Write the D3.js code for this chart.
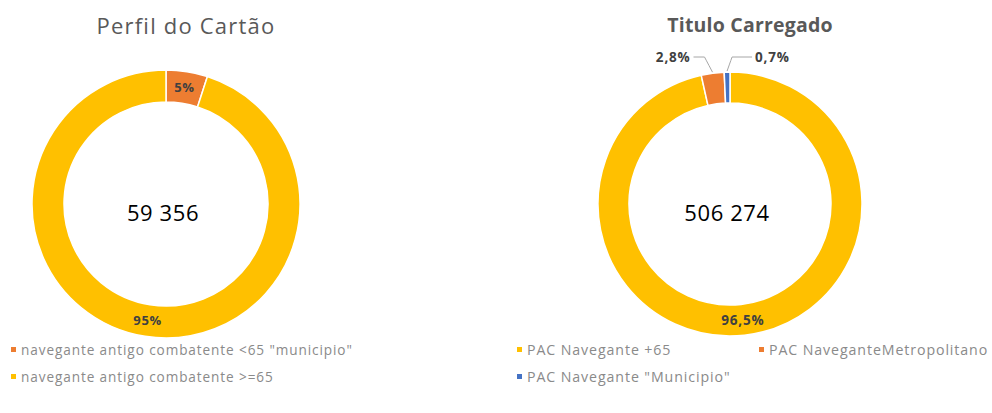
<!DOCTYPE html>
<html>
<head>
<meta charset="utf-8">
<script src="https://cdn.jsdelivr.net/npm/d3@7"></script>
<style>
  html, body { margin: 0; padding: 0; background: #fff; }
  svg { display: block; font-family: "Open Sans", "Noto Sans", sans-serif; }
</style>
</head>
<body>
<svg id="chart" width="992" height="413"></svg>
<script>
// Card profile donut
const profileTitle = "Perfil do Cartão";
const profileCategories = ['navegante antigo combatente <65 "municipio"', 'navegante antigo combatente >=65'];
const profileValues = [5, 95];
const profileTotal = "59 356";

// Loaded ticket donut
const ticketTitle = "Titulo Carregado";
const ticketCategories = ["PAC Navegante +65", "PAC NaveganteMetropolitano", 'PAC Navegante "Municipio"'];
const ticketValues = [96.5, 2.8, 0.7];
const ticketTotal = "506 274";

const YELLOW = "#FFC000", ORANGE = "#ED7D31", BLUE = "#4472C4";

const svg = d3.select("#chart");
const fmtPct = v => String(v).replace(".", ",") + "%";

function donut(cfg) {
  const g = svg.append("g").attr("transform", `translate(${cfg.cx},${cfg.cy})`);
  const color = d3.scaleOrdinal().domain(cfg.categories).range(cfg.colors);
  const pie = d3.pie().sort(null).value(d => d.value);
  const arcs = pie(cfg.categories.map((c, i) => ({ name: c, value: cfg.values[i] })));
  const arc = d3.arc().innerRadius(cfg.rIn).outerRadius(cfg.rOut);
  const mid = d3.arc().innerRadius((cfg.rIn + cfg.rOut) / 2).outerRadius((cfg.rIn + cfg.rOut) / 2);

  g.selectAll("path.slice").data(arcs).join("path")
    .attr("class", "slice")
    .attr("d", arc)
    .attr("fill", d => color(d.data.name))
    .attr("stroke", "#fff")
    .attr("stroke-width", 1.5);

  // slice labels: inside the ring, or outside with a leader line
  arcs.forEach(d => {
    const lab = cfg.labelMode(d);
    if (lab === "inside") {
      const [x, y] = mid.centroid(d);
      g.append("text").attr("x", x).attr("y", y).attr("dy", "0.35em")
        .attr("text-anchor", "middle").attr("font-size", cfg.pctSize).attr("font-weight", 700)
        .attr("letter-spacing", cfg.pctSpacing)
        .attr("fill", "#404040").text(fmtPct(d.data.value));
    } else if (lab) {
      const a = (d.startAngle + d.endAngle) / 2;
      const r0 = cfg.rOut + 1;
      const p0 = [Math.sin(a) * r0, -Math.cos(a) * r0];
      const p1 = [p0[0] + lab.dx1, -cfg.rOut - 15];
      const p2 = [p1[0] + lab.dx2, p1[1]];
      g.append("path")
        .attr("d", `M${p0[0]},${p0[1]}Q${p1[0]},${p1[1]} ${p1[0]},${p1[1]}L${p2[0]},${p2[1]}`)
        .attr("fill", "none").attr("stroke", "#a6a6a6").attr("stroke-width", 1);
      g.append("text").attr("x", p2[0] + (lab.dx2 < 0 ? -3 : 3)).attr("y", p2[1]).attr("dy", "0.35em")
        .attr("text-anchor", lab.dx2 < 0 ? "end" : "start")
        .attr("font-size", cfg.pctSize).attr("font-weight", 700).attr("fill", "#404040")
        .attr("letter-spacing", cfg.pctSpacing)
        .text(fmtPct(d.data.value));
    }
  });

  g.append("text").attr("x", -3).attr("y", 9).attr("dy", "0.35em")
    .attr("text-anchor", "middle").attr("font-size", 22).attr("letter-spacing", 0.6)
    .attr("fill", "#000")
    .text(cfg.total);

  svg.append("text").attr("x", cfg.titleX).attr("y", cfg.titleY)
    .attr("text-anchor", "middle").attr("font-size", cfg.titleSize)
    .attr("letter-spacing", cfg.titleSpacing)
    .attr("font-weight", cfg.titleWeight).attr("fill", cfg.titleColor)
    .text(cfg.title);

  const leg = svg.append("g");
  cfg.categories.forEach((c, i) => {
    const [lx, ly] = cfg.legendPos[i];
    leg.append("rect").attr("x", lx).attr("y", ly - 3).attr("width", 5).attr("height", 5)
      .attr("fill", color(c));
    leg.append("text").attr("x", lx + 10).attr("y", ly).attr("dy", "0.35em")
      .attr("font-size", cfg.legendSize).attr("letter-spacing", 0.9)
      .attr("fill", "#8a8a8a").text(c);
  });
}

donut({
  cx: 166, cy: 204, rOut: 134, rIn: 102,
  categories: profileCategories, values: profileValues, colors: [ORANGE, YELLOW],
  total: profileTotal,
  pctSize: 13, pctSpacing: 0.6,
  labelMode: () => "inside",
  title: profileTitle, titleX: 186, titleY: 34, titleSize: 22, titleSpacing: 1.2, titleWeight: 400, titleColor: "#595959",
  legendSize: 13.6,
  legendPos: [[11, 350], [11, 377]]
});

donut({
  cx: 730, cy: 204, rOut: 132, rIn: 101,
  categories: ticketCategories, values: ticketValues, colors: [YELLOW, ORANGE, BLUE],
  total: ticketTotal,
  pctSize: 13.5, pctSpacing: 0.8,
  labelMode: d => d.index === 0 ? "inside" : (d.index === 1 ? { dx1: -8, dx2: -11 } : { dx1: 5, dx2: 20 }),
  title: ticketTitle, titleX: 750, titleY: 32, titleSize: 19.5, titleSpacing: 0.2, titleWeight: 700, titleColor: "#595959",
  legendSize: 14.2,
  legendPos: [[517, 350], [759, 350], [517, 377]]
});
</script>
</body>
</html>
